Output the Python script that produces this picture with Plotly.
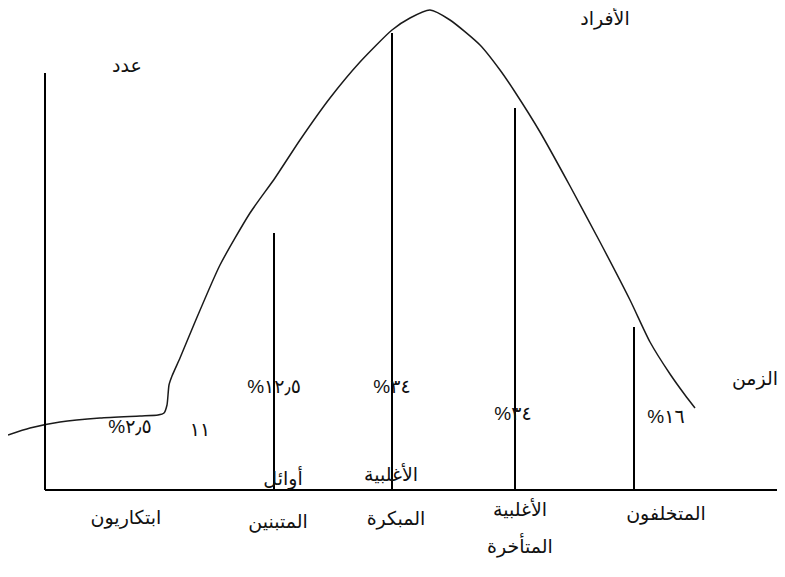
import plotly.graph_objects as go

# Diffusion curve (diagram units, y grows downward)
curve_x = [8, 30, 60, 100, 140, 158, 164, 167, 169, 172, 180, 195, 220, 250, 275, 300, 330, 360, 392, 410, 430, 450, 480, 500, 515, 540, 570, 600, 630, 650, 670, 685, 695]
curve_y = [435, 428, 422, 418, 416, 415, 413, 405, 385, 376, 358, 322, 265, 213, 178, 140, 98, 62, 30, 18, 10, 20, 45, 70, 92, 132, 186, 242, 300, 342, 374, 395, 408]

# Vertical category dividers: x position and top
div_x = [45, 274, 392, 515, 634]
div_top = [73, 233, 33, 108, 327]
axis_y = 490
axis_x0, axis_x1 = 45, 785

pct_labels = ["%٢٫٥", "١١", "%١٢٫٥", "%٣٤", "%٣٤", "%١٦"]
pct_x = [130, 200, 274, 392, 513, 666]
pct_y = [428, 431, 388, 388, 415, 418]

cat_labels = ["ابتكاريون", "أوائل", "المتبنين", "الأغلبية", "المبكرة", "الأغلبية", "المتأخرة", "المتخلفون"]
cat_x = [126, 283, 278, 391, 396, 520, 520, 666]
cat_y = [519, 480, 523, 476, 520, 511, 548, 515]

axis_titles = ["عدد", "الأفراد", "الزمن"]
title_x = [127, 605, 755]
title_y = [67, 20, 380]

# page offset of the plot area (default body margin)
OFF = 8
W, H = 785 - 2 * OFF, 577 - 2 * OFF

fig = go.Figure()
fig.add_trace(go.Scatter(x=curve_x, y=curve_y, mode="lines",
                         line=dict(color="#1a1a1a", width=1.5, shape="spline", smoothing=0.6),
                         hoverinfo="skip", showlegend=False))
for x, t in zip(div_x, div_top):
    fig.add_trace(go.Scatter(x=[x, x], y=[t, axis_y], mode="lines",
                             line=dict(color="black", width=2), hoverinfo="skip", showlegend=False))
fig.add_trace(go.Scatter(x=[axis_x0, axis_x1], y=[axis_y, axis_y], mode="lines",
                         line=dict(color="black", width=2), hoverinfo="skip", showlegend=False))

fnt = dict(family="DejaVu Sans, sans-serif", size=19, color="#111")
fnt_pct = dict(family="Liberation Sans, DejaVu Sans, sans-serif", size=19, color="#111")
fig.add_trace(go.Scatter(x=pct_x, y=pct_y, mode="text", text=pct_labels,
                         textfont=fnt_pct, hoverinfo="skip", showlegend=False, cliponaxis=False))
fig.add_trace(go.Scatter(x=cat_x, y=cat_y, mode="text", text=cat_labels,
                         textfont=fnt, hoverinfo="skip", showlegend=False, cliponaxis=False))
fig.add_trace(go.Scatter(x=title_x, y=title_y, mode="text", text=axis_titles,
                         textfont=fnt, hoverinfo="skip", showlegend=False, cliponaxis=False))

fig.update_layout(width=W, height=H, margin=dict(l=0, r=0, t=0, b=0),
                  paper_bgcolor="white", plot_bgcolor="white",
                  xaxis=dict(range=[OFF, OFF + W], visible=False, fixedrange=True),
                  yaxis=dict(range=[OFF + H, OFF], visible=False, fixedrange=True))
fig.write_html("out.html")
